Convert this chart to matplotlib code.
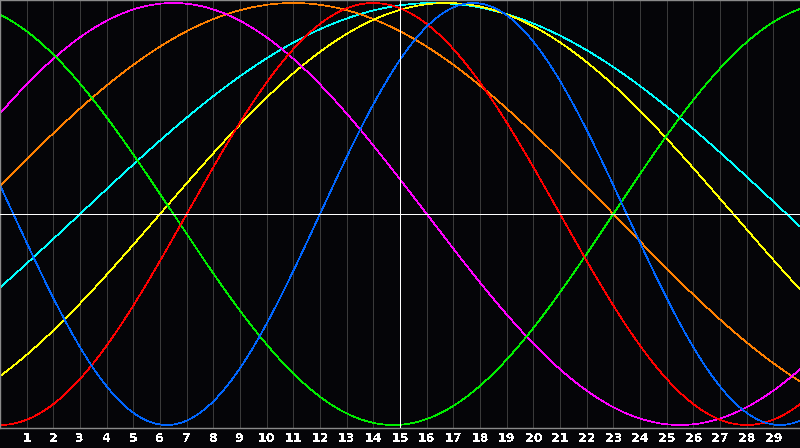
import numpy as np
import matplotlib
matplotlib.use("Agg")
import matplotlib.pyplot as plt

# Cycle data: period (days) and position within cycle on the first day shown (x=0)
cycle_names = ["Physical", "Emotional", "Intellectual", "Intuitive", "Aesthetic", "Awareness", "Spiritual"]
periods = [23, 28, 33, 38, 43, 48, 53]
start_day_in_cycle = [11, 21, 10, 3, 37, 1, 50]
colors = ["#0066ff", "#ff0000", "#00ee00", "#ff00ff", "#ffff00", "#ff8000", "#00ffff"]

days_shown = 30
today = 15
tick_labels = [str(d) for d in range(1, 30)]

plt.rcParams['text.antialiased'] = False

fig = plt.figure(figsize=(8, 4.48), dpi=100, facecolor="#050508")
ax = fig.add_axes([0, 20 / 448, 1, 428 / 448])
ax.set_facecolor("#050508")

x = np.linspace(0, days_shown, 2401)

# day grid
for d in range(1, days_shown):
    ax.axvline(d, color="#3a3a3a", lw=0.5, antialiased=False, zorder=1)

draw_order = [6, 5, 4, 3, 2, 1, 0]
for i in draw_order:
    y = np.sin(2 * np.pi * (x + start_day_in_cycle[i]) / periods[i])
    ax.plot(x, y, color=colors[i], lw=0.5, antialiased=False, zorder=2, label=cycle_names[i])

ax.axhline(0, color="white", lw=0.6, antialiased=False, zorder=3)
ax.axvline(today, color="white", lw=0.6, antialiased=False, zorder=3)

a = 214 / 211
ax.set_ylim(-a, a)
ax.set_xlim(0, days_shown)

for s in ["left", "top", "bottom"]:
    ax.spines[s].set_color("#8a8a8a")
    ax.spines[s].set_linewidth(1.0)
ax.spines["right"].set_visible(False)

ax.set_yticks([])
ax.set_xticks(range(1, 30))
ax.set_xticklabels(tick_labels, color="white", fontsize=9, fontweight="bold")
ax.tick_params(axis="x", length=0, pad=3)

fig.savefig("out.png", dpi=100, facecolor=fig.get_facecolor())
